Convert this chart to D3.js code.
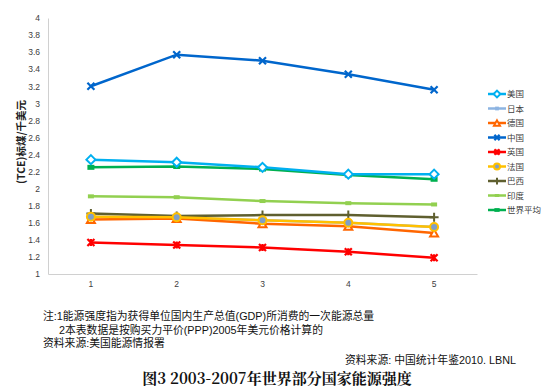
<!DOCTYPE html>
<html><head><meta charset="utf-8">
<script src="https://cdn.jsdelivr.net/npm/d3@7"></script>
<style>body{margin:0;background:#fff}svg{display:block}</style>
</head><body>
<svg id="c" width="547" height="392"></svg>
<script>
const categories = ["1","2","3","4","5"];
const yTicks = [1,1.2,1.4,1.6,1.8,2,2.2,2.4,2.6,2.8,3,3.2,3.4,3.6,3.8,4];
const usa = [2.34,2.31,2.25,2.17,2.17];
const japan = [1.67,1.66,1.63,1.60,1.55];
const germany = [1.64,1.65,1.59,1.56,1.48];
const china = [3.20,3.57,3.50,3.34,3.16];
const uk = [1.37,1.34,1.31,1.26,1.19];
const france = [1.67,1.665,1.63,1.60,1.55];
const brazil = [1.71,1.68,1.69,1.69,1.665];
const india = [1.91,1.90,1.855,1.83,1.815];
const world = [2.25,2.26,2.23,2.16,2.11];
const seriesNames = ["美国","日本","德国","中国","英国","法国","巴西","印度","世界平均"];

const series = [
  {name:seriesNames[0], values:usa, color:"#00b0f0", marker:"diamond"},
  {name:seriesNames[1], values:japan, color:"#8db4e2", marker:"square"},
  {name:seriesNames[2], values:germany, color:"#ff6600", marker:"triangle"},
  {name:seriesNames[3], values:china, color:"#0066cc", marker:"x"},
  {name:seriesNames[4], values:uk, color:"#ff0000", marker:"star"},
  {name:seriesNames[5], values:france, color:"#ffc000", marker:"circle"},
  {name:seriesNames[6], values:brazil, color:"#5f5f2f", marker:"plus"},
  {name:seriesNames[7], values:india, color:"#92d050", marker:"dash"},
  {name:seriesNames[8], values:world, color:"#00b050", marker:"dashsq"}
];
// draw order: back to front
const drawOrder = [8,7,1,6,0,3,4,2,5];

const svg = d3.select("#c");
const x = d3.scaleBand().domain(categories).range([48,477]);
const y = d3.scaleLinear().domain([1,4]).range([274,18]);
const font = "'Noto Sans CJK SC', 'Liberation Sans', sans-serif";

// axes
const ya = svg.append("g").attr("transform","translate(48,0)")
  .call(d3.axisLeft(y).tickValues(yTicks).tickSize(0).tickPadding(8).tickFormat(d3.format("~g")));
ya.select(".domain").attr("stroke","#d0d0d0");
ya.selectAll("text").attr("font-family","'Liberation Sans', sans-serif").attr("font-size",8.5).attr("fill","#404040");
const xa = svg.append("g").attr("transform","translate(0,274)")
  .call(d3.axisBottom(x).tickSize(0).tickPadding(7));
xa.select(".domain").attr("stroke","#d0d0d0");
xa.selectAll("text").attr("font-family","'Liberation Sans', sans-serif").attr("font-size",8.5).attr("fill","#404040");

svg.append("text").attr("transform","translate(25,142) rotate(-90)")
  .attr("text-anchor","middle").attr("font-family",font).attr("font-size",10.5).attr("font-weight","bold").attr("fill","#222")
  .text("(TCE)标煤/千美元");

const cx = (i)=> x(categories[i]) + x.bandwidth()/2;

function drawMarker(g, type, px, py, color, s){
  s = s||1;
  if(type==="diamond"){
    g.append("path").attr("d",`M${px},${py-4.5*s}L${px+4.5*s},${py}L${px},${py+4.5*s}L${px-4.5*s},${py}Z`)
      .attr("fill","#fff").attr("stroke",color).attr("stroke-width",2);
  } else if(type==="square"){
    g.append("rect").attr("x",px-2.5*s).attr("y",py-2.5*s).attr("width",5*s).attr("height",5*s).attr("fill",color);
  } else if(type==="triangle"){
    g.append("path").attr("d",`M${px},${py-3.5*s}L${px+4*s},${py+3.5*s}L${px-4*s},${py+3.5*s}Z`)
      .attr("fill","#fff").attr("stroke",color).attr("stroke-width",2);
  } else if(type==="x" || type==="star"){
    const r=3.5*s;
    g.append("path").attr("d",`M${px-r},${py-r}L${px+r},${py+r}M${px+r},${py-r}L${px-r},${py+r}`+(type==="star"?`M${px},${py-r}L${px},${py+r}`:""))
      .attr("stroke",color).attr("stroke-width",2.2).attr("fill","none");
  } else if(type==="circle"){
    g.append("circle").attr("cx",px).attr("cy",py).attr("r",4*s).attr("fill","#7f9fc8").attr("stroke",color).attr("stroke-width",2);
  } else if(type==="plus"){
    const r=4.5*s;
    g.append("path").attr("d",`M${px-r},${py}L${px+r},${py}M${px},${py-r}L${px},${py+r}`)
      .attr("stroke",color).attr("stroke-width",2).attr("fill","none");
  } else if(type==="dash"){
    g.append("rect").attr("x",px-3*s).attr("y",py-2*s).attr("width",6*s).attr("height",4*s).attr("fill",color);
  } else if(type==="dashsq"){
    g.append("rect").attr("x",px-3.5*s).attr("y",py-2.5*s).attr("width",7*s).attr("height",5*s).attr("fill",color);
  }
}

const line = d3.line().x((d,i)=>cx(i)).y(d=>y(d));
drawOrder.forEach(k=>{
  const s = series[k];
  const g = svg.append("g");
  g.append("path").datum(s.values).attr("d",line).attr("fill","none")
    .attr("stroke",s.color).attr("stroke-width",2.5);
  s.values.forEach((v,i)=>drawMarker(g,s.marker,cx(i),y(v),s.color));
});

// legend
const lg = svg.append("g");
series.forEach((s,i)=>{
  const ly = 94 + i*14.5;
  lg.append("line").attr("x1",488).attr("x2",506).attr("y1",ly).attr("y2",ly)
    .attr("stroke",s.color).attr("stroke-width",2.5);
  drawMarker(lg,s.marker,497,ly,s.color,0.75);
  lg.append("text").attr("x",507).attr("y",ly+3.2).attr("font-family",font)
    .attr("font-size",8.5).attr("fill","#404040").text(s.name);
});

// notes
const nf = "'Liberation Sans', 'Noto Sans CJK SC', sans-serif";
svg.append("text").attr("x",43).attr("y",320).attr("font-family",nf).attr("font-size",10.8).attr("fill","#111")
  .text("注:1能源强度指为获得单位国内生产总值(GDP)所消费的一次能源总量");
svg.append("text").attr("x",59).attr("y",334).attr("font-family",nf).attr("font-size",10.8).attr("fill","#111")
  .text("2本表数据是按购买力平价(PPP)2005年美元价格计算的");
svg.append("text").attr("x",43).attr("y",347).attr("font-family",nf).attr("font-size",10.8).attr("fill","#111")
  .text("资料来源:美国能源情报署");
svg.append("text").attr("x",516).attr("y",364).attr("text-anchor","end").attr("font-family",nf).attr("font-size",10.8).attr("fill","#111")
  .text("资料来源: 中国统计年鉴2010. LBNL");
svg.append("text").attr("x",277).attr("y",384).attr("text-anchor","middle")
  .attr("font-family","'Noto Serif CJK SC', 'Liberation Serif', serif").attr("font-weight","bold").attr("font-size",15).attr("fill","#111")
  .text("图3 2003-2007年世界部分国家能源强度");
</script>
</body></html>
